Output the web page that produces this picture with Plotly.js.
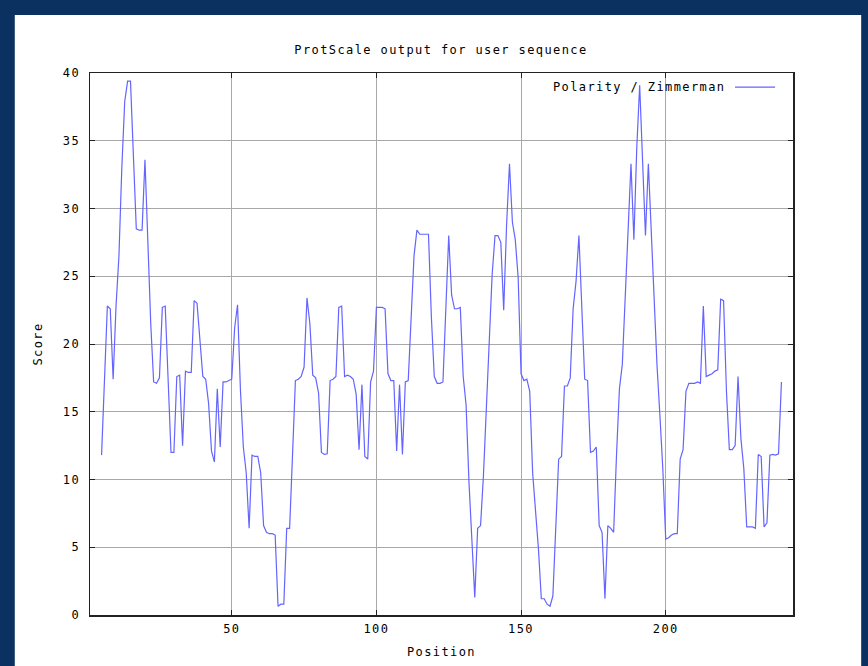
<!DOCTYPE html>
<html>
<head>
<meta charset="utf-8">
<script src="https://cdn.plot.ly/plotly-3.0.1.min.js"></script>
<style>
html,body{margin:0;padding:0;background:#0b3160;}
#chart{width:868px;height:666px;}
#chart svg text{letter-spacing:1.4px;}
</style>
</head>
<body>
<div id="chart"></div>
<script>
var positions = [5,6,7,8,9,10,11,12,13,14,15,16,17,18,19,20,21,22,23,24,25,26,27,28,29,30,31,32,33,34,35,36,37,38,39,40,41,42,43,44,45,46,47,48,49,50,51,52,53,54,55,56,57,58,59,60,61,62,63,64,65,66,67,68,69,70,71,72,73,74,75,76,77,78,79,80,81,82,83,84,85,86,87,88,89,90,91,92,93,94,95,96,97,98,99,100,101,102,103,104,105,106,107,108,109,110,111,112,113,114,115,116,117,118,119,120,121,122,123,124,125,126,127,128,129,130,131,132,133,134,135,136,137,138,139,140,141,142,143,144,145,146,147,148,149,150,151,152,153,154,155,156,157,158,159,160,161,162,163,164,165,166,167,168,169,170,171,172,173,174,175,176,177,178,179,180,181,182,183,184,185,186,187,188,189,190,191,192,193,194,195,196,197,198,199,200,201,202,203,204,205,206,207,208,209,210,211,212,213,214,215,216,217,218,219,220,221,222,223,224,225,226,227,228,229,230,231,232,233,234,235,236,237,238,239,240];
var scores = [
11.8,17.3,22.8,22.6,17.4,22.8,26.5,33.0,37.9,39.4,39.4,33.9,28.5,28.4,28.4,33.6,27.7,21.5,17.2,17.1,
17.5,22.7,22.8,17.8,12.0,12.0,17.6,17.7,12.5,18.0,17.9,17.9,23.2,23.0,20.2,17.6,17.4,15.6,12.1,11.3,
16.7,12.4,17.2,17.2,17.3,17.4,21.2,22.9,16.6,12.4,10.5,6.4,11.8,11.7,11.7,10.5,6.6,6.1,6.0,6.0,
5.9,0.65,0.8,0.8,6.4,6.4,11.8,17.3,17.4,17.6,18.3,23.4,21.5,17.7,17.5,16.4,12.0,11.85,11.9,17.3,
17.4,17.6,22.7,22.8,17.6,17.7,17.6,17.4,16.3,12.2,17.0,11.7,11.5,17.2,18.0,22.7,22.7,22.7,22.6,17.8,
17.3,17.3,12.1,17.0,11.85,17.2,17.3,22.3,26.5,28.4,28.1,28.1,28.1,28.1,22.0,17.6,17.1,17.1,17.2,22.8,
28.0,23.6,22.6,22.6,22.7,17.6,15.5,9.8,5.6,1.3,6.4,6.6,10.3,15.5,21.1,25.1,28.0,28.0,27.5,22.5,
28.8,33.3,29.0,27.7,24.9,17.8,17.3,17.4,16.5,10.5,7.7,4.9,1.2,1.2,0.8,0.65,1.4,6.4,11.5,11.7,
16.9,16.9,17.5,22.6,24.6,28.0,22.3,17.4,17.3,12.0,12.1,12.4,6.6,6.1,1.2,6.6,6.4,6.1,11.85,16.7,
18.5,23.3,28.3,33.3,27.7,34.5,39.1,33.7,28.0,33.3,28.3,23.3,18.4,14.7,10.8,5.6,5.7,5.9,6.0,6.0,
11.5,12.2,16.5,17.1,17.1,17.1,17.2,17.1,22.8,17.6,17.7,17.8,18.0,18.1,23.3,23.2,16.5,12.2,12.2,12.5,
17.6,13.0,10.8,6.5,6.5,6.5,6.4,11.85,11.7,6.5,6.8,11.8,11.85,11.8,11.9,17.2
];
var xTicks = [50,100,150,200];
var yTicks = [0,5,10,15,20,25,30,35,40];
var seriesName = "Polarity / Zimmerman";
var chartTitle = "ProtScale output for user sequence";

var mono = "DejaVu Sans Mono, monospace";
var fnt = {family: mono, size: 12, color: "#000"};
var trace = {
  x: positions, y: scores, type: "scatter", mode: "lines",
  line: {color: "#6464ff", width: 1.2, shape: "linear"},
  name: seriesName, showlegend: false, hoverinfo: "x+y"
};
var layout = {
  width: 868, height: 666,
  margin: {l: 90, r: 75, t: 73, b: 51, pad: 0},
  paper_bgcolor: "#0b3160",
  plot_bgcolor: "#ffffff",
  title: {text: chartTitle, font: fnt, x: 0.508, xanchor: "center", y: 0.925, yanchor: "middle"},
  xaxis: {
    range: [1, 244], tickvals: xTicks, ticktext: xTicks.map(String),
    showgrid: true, gridcolor: "#a8a8a8", gridwidth: 1,
    showline: true, linecolor: "#222", linewidth: 1.5, mirror: "ticks",
    ticks: "inside", ticklen: 5, tickcolor: "#222", zeroline: false,
    tickfont: fnt, ticklabelstandoff: 2,
    title: {text: "Position", font: fnt, standoff: 12}
  },
  yaxis: {
    range: [0, 40], tickvals: yTicks, ticktext: yTicks.map(String),
    showgrid: true, gridcolor: "#a8a8a8", gridwidth: 1,
    showline: true, linecolor: "#222", linewidth: 1.5, mirror: "ticks",
    ticks: "inside", ticklen: 5, tickcolor: "#222", zeroline: false,
    tickfont: fnt, ticklabelstandoff: 6,
    title: {text: "Score", font: fnt, standoff: 20}
  },
  shapes: [
    {type: "rect", xref: "paper", yref: "paper", x0: -0.107, x1: 1.097, y0: -0.1, y1: 1.107,
     fillcolor: "#ffffff", line: {width: 0}, layer: "below"},
    {type: "line", xref: "paper", yref: "paper", x0: 0.9175, x1: 0.9745, y0: 0.974, y1: 0.974,
     line: {color: "#6464ff", width: 1.2}}
  ],
  annotations: [
    {text: seriesName, xref: "paper", yref: "paper", x: 0.888, y: 0.974, xanchor: "right", yanchor: "middle",
     showarrow: false, font: fnt}
  ]
};
Plotly.newPlot("chart", [trace], layout, {displayModeBar: false, staticPlot: true});
</script>
</body>
</html>
